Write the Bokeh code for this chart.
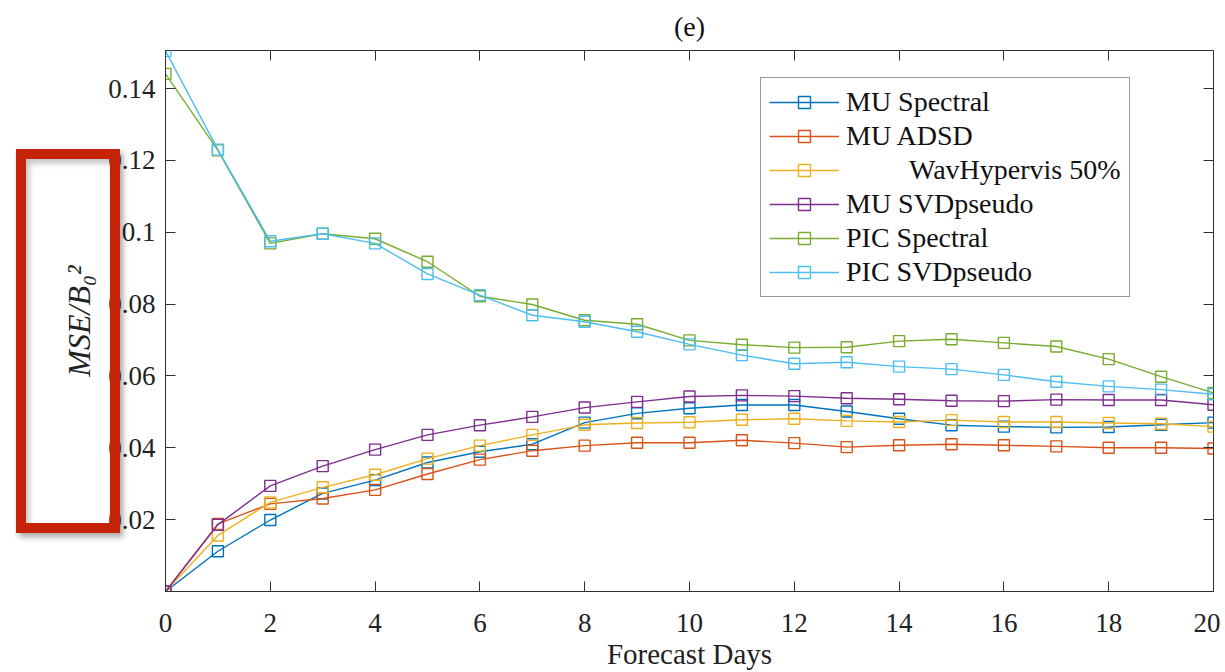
from bokeh.plotting import figure
from bokeh.layouts import row
from bokeh.models import LinearAxis, FixedTicker, Range1d, Div
from bokeh.embed import file_html
from bokeh.resources import INLINE

# ---------------- data ----------------
days = list(range(21))
mu_spectral = [0, 0.0112, 0.0199, 0.0273, 0.0310, 0.0359, 0.0389, 0.0410, 0.0470, 0.0496, 0.0510,
               0.0519, 0.0519, 0.0501, 0.0481, 0.0463, 0.0459, 0.0457, 0.0458, 0.0464, 0.0470]
mu_adsd = [0, 0.0188, 0.0244, 0.0259, 0.0283, 0.0327, 0.0367, 0.0392, 0.0406, 0.0414, 0.0414,
           0.0421, 0.0413, 0.0402, 0.0407, 0.0410, 0.0407, 0.0404, 0.0400, 0.0400, 0.0398]
wav_hypervis = [0, 0.0156, 0.0248, 0.0290, 0.0325, 0.0370, 0.0406, 0.0436, 0.0464, 0.0469, 0.0471,
                0.0478, 0.0481, 0.0475, 0.0472, 0.0477, 0.0472, 0.0472, 0.0469, 0.0467, 0.0459]
mu_svdpseudo = [0, 0.0186, 0.0294, 0.0349, 0.0395, 0.0436, 0.0463, 0.0486, 0.0512, 0.0528, 0.0543,
                0.0546, 0.0544, 0.0538, 0.0535, 0.0531, 0.0530, 0.0534, 0.0533, 0.0533, 0.0520]
pic_spectral = [0.1441, 0.1228, 0.0969, 0.0996, 0.0982, 0.0918, 0.0822, 0.0799, 0.0755, 0.0744, 0.0699,
                0.0687, 0.0679, 0.0680, 0.0697, 0.0702, 0.0692, 0.0682, 0.0647, 0.0598, 0.0553]
pic_svdpseudo = [0.1505, 0.1230, 0.0975, 0.0996, 0.0969, 0.0884, 0.0825, 0.0769, 0.0751, 0.0723, 0.0688,
                 0.0658, 0.0634, 0.0638, 0.0626, 0.0619, 0.0603, 0.0584, 0.0571, 0.0562, 0.0549]

series_names = ["MU Spectral", "MU ADSD", "\u00a0" * 9 + "WavHypervis 50%", "MU SVDpseudo",
                "PIC Spectral", "PIC SVDpseudo"]
series_values = [mu_spectral, mu_adsd, wav_hypervis, mu_svdpseudo, pic_spectral, pic_svdpseudo]
series_colors = ["#0072BD", "#D95319", "#EDB120", "#7E2F8E", "#77AC30", "#4DBEEE"]

x_ticks = [0, 2, 4, 6, 8, 10, 12, 14, 16, 18, 20]
y_ticks = [0.02, 0.04, 0.06, 0.08, 0.1, 0.12, 0.14]
y_tick_labels = ["0.02", "0.04", "0.06", "0.08", "0.1", "0.12", "0.14"]

FONT = "Liberation Serif"
AX = "#303030"

p = figure(width=1220, height=672, output_backend="svg", toolbar_location=None,
           x_range=Range1d(0, 20), y_range=Range1d(0, 0.1506),
           min_border_left=165, min_border_right=7, min_border_top=49, min_border_bottom=81,
           title="(e)")
p.background_fill_color = "white"
p.border_fill_color = "white"
p.outline_line_color = AX
p.outline_line_width = 1
p.xgrid.visible = False
p.ygrid.visible = False

p.title.text_font = FONT
p.title.text_font_size = "28px"
p.title.text_font_style = "normal"
p.title.text_color = "#111111"
p.title.align = "center"
p.title.offset = 0
p.title.standoff = 17

# main axes
xa = p.xaxis[0]
xa.ticker = FixedTicker(ticks=x_ticks)
xa.axis_label = "Forecast Days"
xa.axis_label_text_font_style = "normal"
ya = p.yaxis[0]
ya.ticker = FixedTicker(ticks=y_ticks)
ya.major_label_overrides = {t: l for t, l in zip(y_ticks, y_tick_labels)}
ya.axis_label = "MSE/B\u2080\u00b2"
ya.axis_label_text_font_style = "italic"

for ax in (xa, ya):
    ax.axis_line_color = AX
    ax.axis_line_width = 1
    ax.major_tick_line_color = AX
    ax.major_tick_in = 10
    ax.major_tick_out = 0
    ax.minor_tick_line_color = None
    ax.major_label_text_font = FONT
    ax.major_label_text_font_size = "27px"
    ax.major_label_text_color = "#222222"
    ax.axis_label_text_font = FONT
    ax.axis_label_text_font_size = "29px"
    ax.axis_label_text_color = "#222222"
ya.axis_label_text_font_size = "32px"
xa.major_label_standoff = 22
xa.axis_label_standoff = 3
ya.major_label_standoff = 10
ya.axis_label_standoff = 8

# tick-only axes on top and right (labels not drawn)
top = LinearAxis(ticker=FixedTicker(ticks=x_ticks))
right = LinearAxis(ticker=FixedTicker(ticks=y_ticks))
for ax in (top, right):
    ax.axis_line_color = None
    ax.major_tick_line_color = AX
    ax.major_tick_in = 10
    ax.major_tick_out = 0
    ax.minor_tick_line_color = None
    ax.major_label_text_font_size = "1px"
    ax.major_label_text_color = None
    ax.major_label_standoff = 0
p.add_layout(top, "above")
p.add_layout(right, "right")

for name, vals, col in zip(series_names, series_values, series_colors):
    p.line(days, vals, line_color=col, line_width=1.4, legend_label=name)
    p.scatter(days, vals, marker="square", size=11, fill_color=None,
              line_color=col, line_width=1.4, legend_label=name)

lg = p.legend[0]
lg.location = (595, 294)
lg.label_text_font = FONT
lg.label_text_font_size = "28px"
lg.label_text_color = "#111111"
lg.glyph_width = 70
lg.glyph_height = 30
lg.label_height = 30
lg.label_standoff = 7
lg.spacing = 2
lg.padding = 8
lg.margin = 0
lg.border_line_color = AX
lg.border_line_width = 1
lg.background_fill_color = "white"
lg.background_fill_alpha = 1

# red highlight rectangle overlaid on the page (with a soft drop shadow)
red_box = Div(
    text=('<div style="position:fixed;left:16px;top:149px;width:84px;height:364px;'
          'border:10px solid #C52307;box-sizing:content-box;pointer-events:none;z-index:50;'
          'box-shadow:3px 4px 6px rgba(0,0,0,0.35), inset 3px 4px 6px rgba(0,0,0,0.25);"></div>'),
    width=1, height=1)

open("out.html", "w").write(file_html(row(p, red_box), INLINE))
